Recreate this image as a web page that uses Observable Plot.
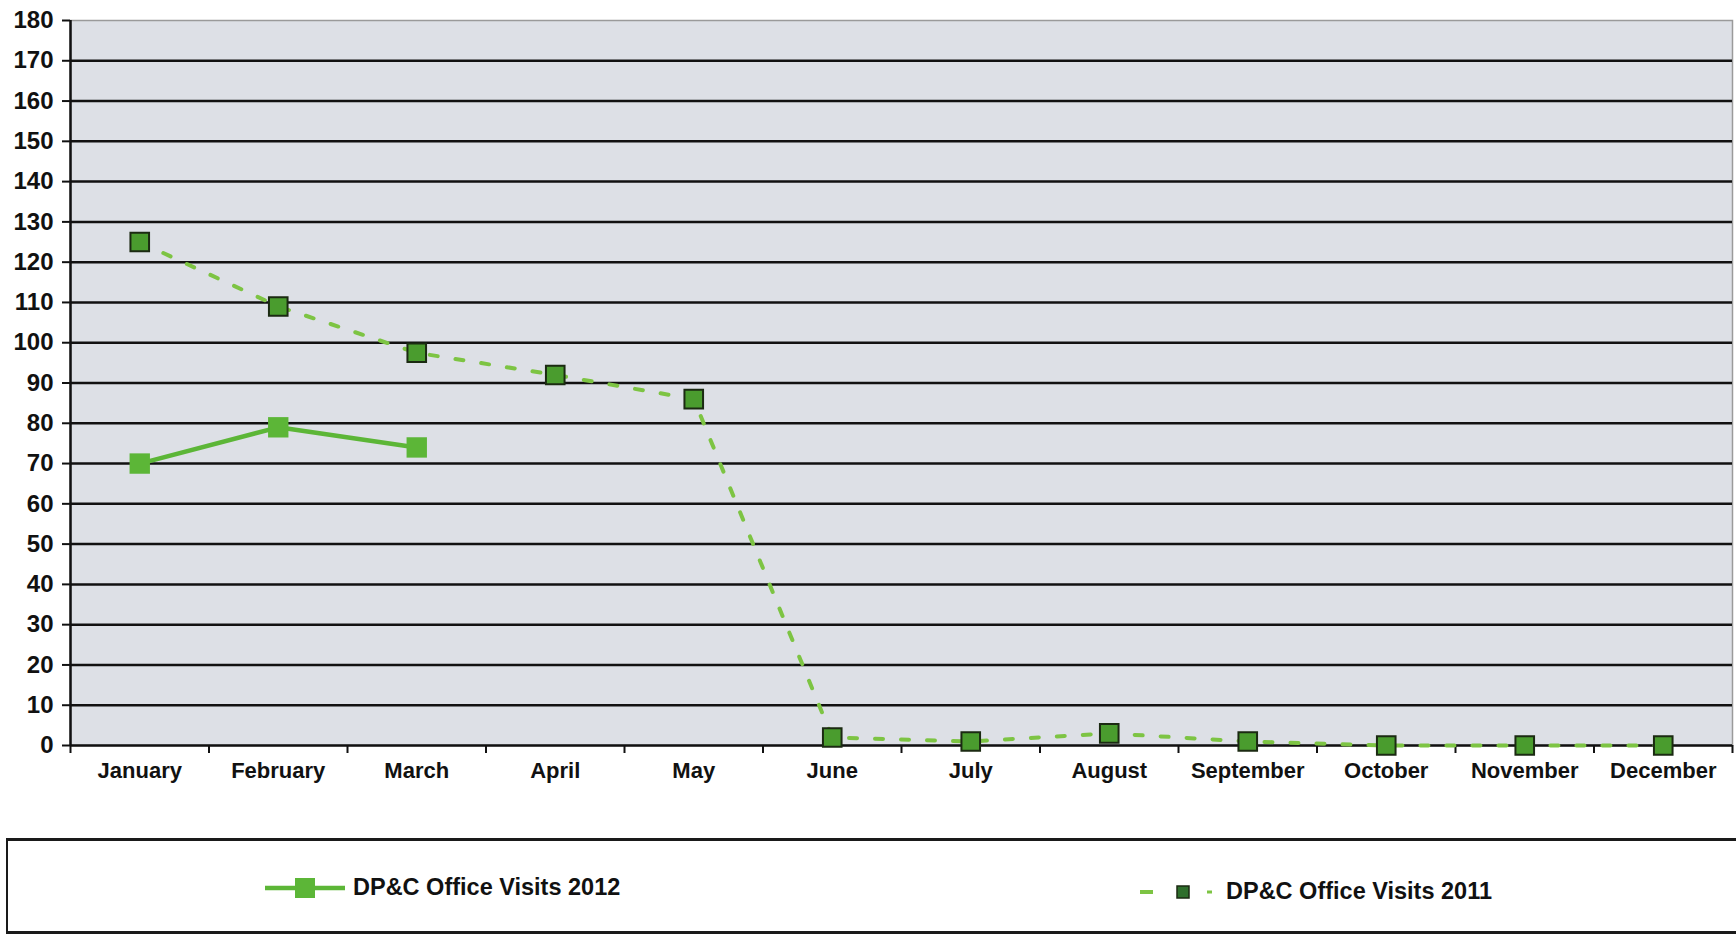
<!DOCTYPE html>
<html>
<head>
<meta charset="utf-8">
<script src="https://cdn.jsdelivr.net/npm/d3@7"></script>
<script src="https://cdn.jsdelivr.net/npm/@observablehq/plot@0.6"></script>
<style>
  html, body { margin: 0; padding: 0; background: #fff; overflow: hidden; }
  body { width: 1736px; height: 936px; position: relative; font-family: "Liberation Sans", Arial, sans-serif; font-weight: bold; }
  #chart { position: absolute; left: 0; top: 0; }
  #legend { position: absolute; left: 6px; top: 838px; width: 1760px; height: 90px; border-top: 3px solid #1a1a1a; border-bottom: 3px solid #1a1a1a; border-left: 2px solid #1a1a1a; }
  .item { position: absolute; display: flex; align-items: center; font-size: 23.5px; color: #111; }
  .item svg { display: block; }
</style>
</head>
<body>
<div id="chart"></div>
<div id="legend"></div>
<script>
const months = ["January","February","March","April","May","June","July","August","September","October","November","December"];
const visits2012 = [70, 79, 74];
const visits2011 = [125, 109, 97.5, 92, 86, 2, 1, 3, 1, 0, 0, 0];
const yTicks = d3.range(0, 181, 10);
const seriesNames = ["DP&C Office Visits 2012", "DP&C Office Visits 2011"];

const color2012 = "#5cb637";
const color2011Line = "#7dc443";
const color2011Fill = "#4a9c2e";
const bg = "#dde0e6";

const rows2012 = visits2012.map((v, i) => ({i, month: months[i], v}));
const rows2011 = visits2011.map((v, i) => ({i, month: months[i], v}));
const xStart = -0.5, xEnd = months.length - 0.5;
const boundaries = d3.range(months.length + 1).map(k => k - 0.5);

const chart = Plot.plot({
  width: 1736,
  height: 800,
  marginLeft: 70,
  marginRight: 4,
  marginTop: 20,
  marginBottom: 55,
  style: {fontFamily: "'Liberation Sans', Arial, sans-serif", fontWeight: "bold", background: "transparent", color: "#111"},
  x: {domain: [xStart, xEnd]},
  y: {domain: [0, 180]},
  marks: [
    Plot.frame({fill: bg, stroke: "#9a9a9a", strokeWidth: 1.5}),
    Plot.ruleY(yTicks.filter(t => t > 0 && t < 180), {stroke: "#111", strokeWidth: 2.5}),
    Plot.ruleY([0], {stroke: "#111", strokeWidth: 2.5}),
    Plot.ruleX([xStart], {stroke: "#111", strokeWidth: 2.5}),
    Plot.axisY({ticks: yTicks, tickSize: 8, tickPadding: 9, fontSize: 24, strokeWidth: 2, label: null, tickFormat: d => d}),
    Plot.axisX({ticks: d3.range(months.length), tickSize: 0, tickPadding: 17, fontSize: 22, label: null, tickFormat: i => months[i]}),
    Plot.axisX(boundaries, {tickSize: 8, strokeWidth: 2, label: null, tickFormat: () => ""}),
    Plot.line(rows2011, {x: "i", y: "v", stroke: color2011Line, strokeWidth: 4, strokeDasharray: "8,18"}),
    Plot.dot(rows2011, {x: "i", y: "v", symbol: "square", r: 10.5, fill: color2011Fill, stroke: "#1b2a12", strokeWidth: 2}),
    Plot.line(rows2012, {x: "i", y: "v", stroke: color2012, strokeWidth: 4.5}),
    Plot.dot(rows2012, {x: "i", y: "v", symbol: "square", r: 11.5, fill: color2012})
  ]
});
document.getElementById("chart").appendChild(chart);

// Legend
const legend = document.getElementById("legend");
function item(left, top, svgMarkup, text) {
  const d = document.createElement("div");
  d.className = "item";
  d.style.left = left + "px";
  d.style.top = top + "px";
  d.innerHTML = svgMarkup + `<span style="margin-left:6px">${text.replace("&","&amp;")}</span>`;
  legend.appendChild(d);
}
item(255, 33,
  `<svg width="84" height="26"><line x1="2" y1="13" x2="82" y2="13" stroke="${color2012}" stroke-width="4.5"/><rect x="32" y="3" width="20" height="20" fill="${color2012}"/></svg>`,
  seriesNames[0]);
item(1126, 37,
  `<svg width="86" height="26"><line x1="6" y1="13" x2="19" y2="13" stroke="${color2011Line}" stroke-width="4"/><rect x="43" y="7" width="12" height="12" fill="#2f6f2c" stroke="#1b2a12" stroke-width="1.5"/><line x1="73" y1="13" x2="78" y2="13" stroke="${color2011Line}" stroke-width="3"/></svg>`,
  seriesNames[1]);
</script>
</body>
</html>
